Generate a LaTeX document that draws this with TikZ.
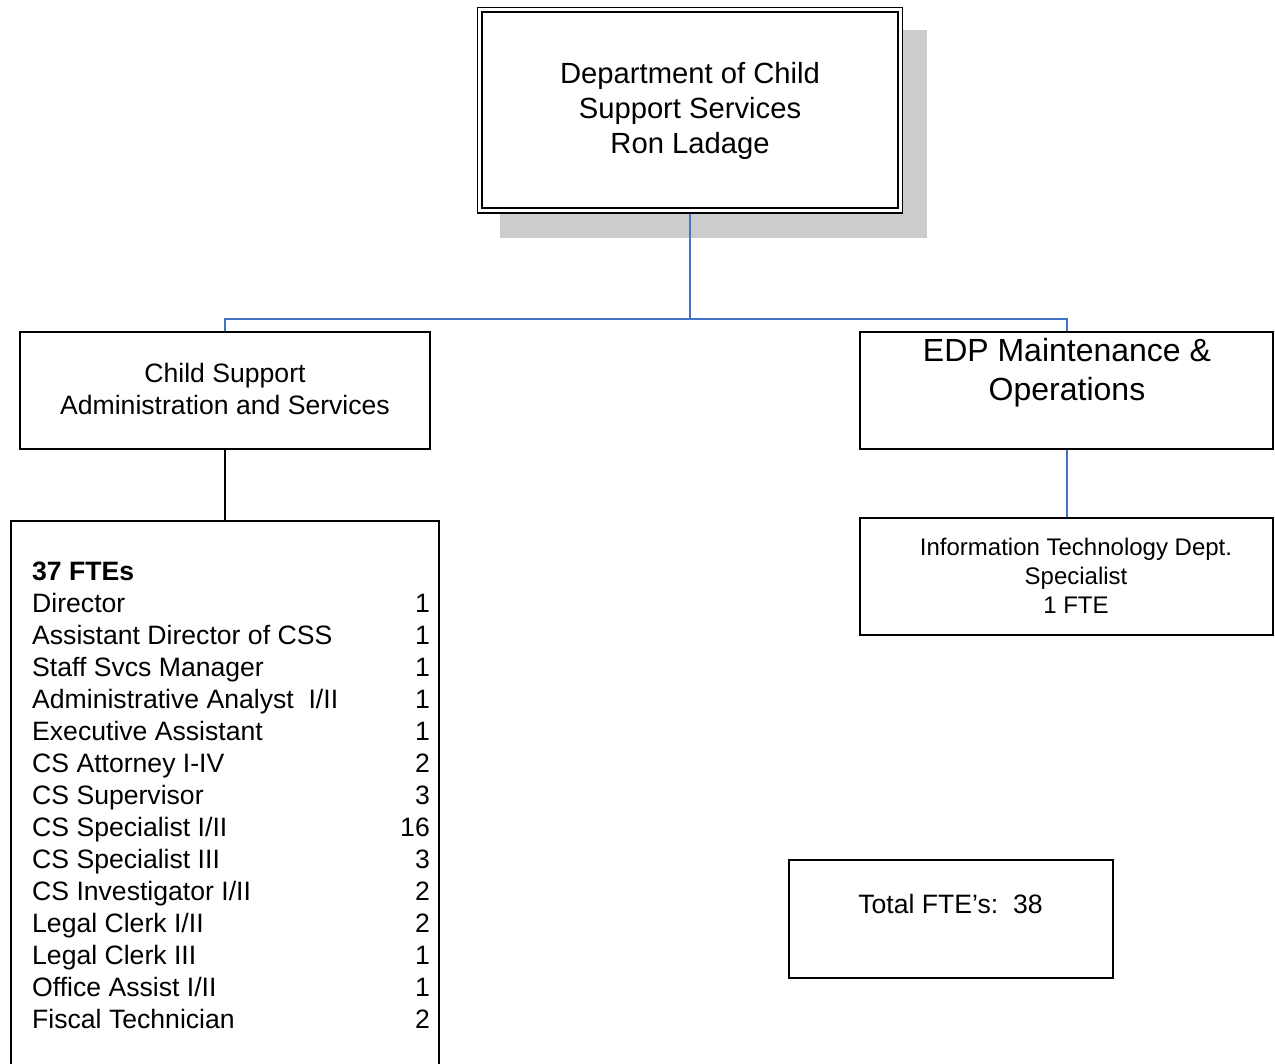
\documentclass[tikz,border=0pt]{standalone}
\usepackage{fontspec}
\setmainfont{Liberation Sans}
\definecolor{conblue}{RGB}{68,114,196}
\definecolor{shade}{RGB}{204,204,204}
\begin{document}
\begin{tikzpicture}[x=1pt,y=-1pt,
  box/.style={draw=black, line width=1.6pt, fill=white, inner sep=0pt},
  txt/.style={inner sep=0pt, anchor=base, font=\fontsize{26.6}{32}\selectfont},
  toptxt/.style={txt, font=\fontsize{29.2}{35}\selectfont},
  edptxt/.style={txt, font=\fontsize{32}{39}\selectfont},
  ittxt/.style={txt, font=\fontsize{24}{29}\selectfont},
  item/.style={txt, anchor=base west},
  num/.style={txt, anchor=base east},
  bluecon/.style={draw=conblue, line width=2pt},
  blackcon/.style={draw=black, line width=1.8pt}]
\clip (0,0) rectangle (1275,1064);
\fill[white] (0,0) rectangle (1275,1064);
% top box with shadow and double border
\node[fill=shade, minimum width=427pt, minimum height=208pt, inner sep=0pt] (shadow) at (713.5,134) {};
\node[box, minimum width=425pt, minimum height=205.5pt] (top) at (690,110.25) {};
\node[draw=black, line width=1.6pt, minimum width=416pt, minimum height=196pt, inner sep=0pt] (topin) at (690,110) {};
\node[toptxt] (t1) at (690,84) {Department of Child};
\node[toptxt] (t2) at (690,119) {Support Services};
\node[toptxt] (t3) at (690,154) {Ron Ladage};
% second level
\node[box, minimum width=410pt, minimum height=117pt] (csa) at (225,390.5) {};
\node[txt] (c1) at (225,383) {Child Support};
\node[txt] (c2) at (225,415) {Administration and Services};
\node[box, minimum width=413pt, minimum height=117pt] (edp) at (1066.5,390.5) {};
\node[edptxt] (e1) at (1067,362) {EDP Maintenance \&};
\node[edptxt] (e2) at (1067,401) {Operations};
% connectors from top
\coordinate (bus) at (690,319);
\draw[bluecon] (top.south) -- (bus);
\draw[bluecon] (csa.north) |- (bus) -| (edp.north);
% IT box
\node[box, minimum width=413pt, minimum height=117pt] (it) at (1066.5,576.5) {};
\node[ittxt] (i1) at (1076,555) {Information Technology Dept.};
\node[ittxt] (i2) at (1076,584) {Specialist};
\node[ittxt] (i3) at (1076,613) {1 FTE};
\draw[bluecon] (edp.south) -- (it.north);
% list box
\node[box, minimum width=428pt, minimum height=579pt] (list) at (225,810.5) {};
\draw[blackcon] (csa.south) -- (list.north);
\node[item, font=\fontsize{26.6}{32}\selectfont\bfseries] (hdr) at (32,580) {37 FTEs};
\foreach \name/\n [count=\k from 0] in {{Director}/1, {Assistant Director of CSS}/1, {Staff Svcs Manager}/1, {Administrative Analyst\ \ I/II}/1, {Executive Assistant}/1, {CS Attorney I-IV}/2, {CS Supervisor}/3, {CS Specialist I/II}/16, {CS Specialist III}/3, {CS Investigator I/II}/2, {Legal Clerk I/II}/2, {Legal Clerk III}/1, {Office Assist I/II}/1, {Fiscal Technician}/2}{
  \node[item] (r\k) at (32,612+32*\k) {\name};
  \node[num] (n\k) at (430,612+32*\k) {\n};
}
% total box
\node[box, minimum width=324pt, minimum height=118pt] (total) at (951,919) {};
\node[txt] (tt) at (950.5,913) {Total FTE’s:\ \ 38};
\end{tikzpicture}
\end{document}
